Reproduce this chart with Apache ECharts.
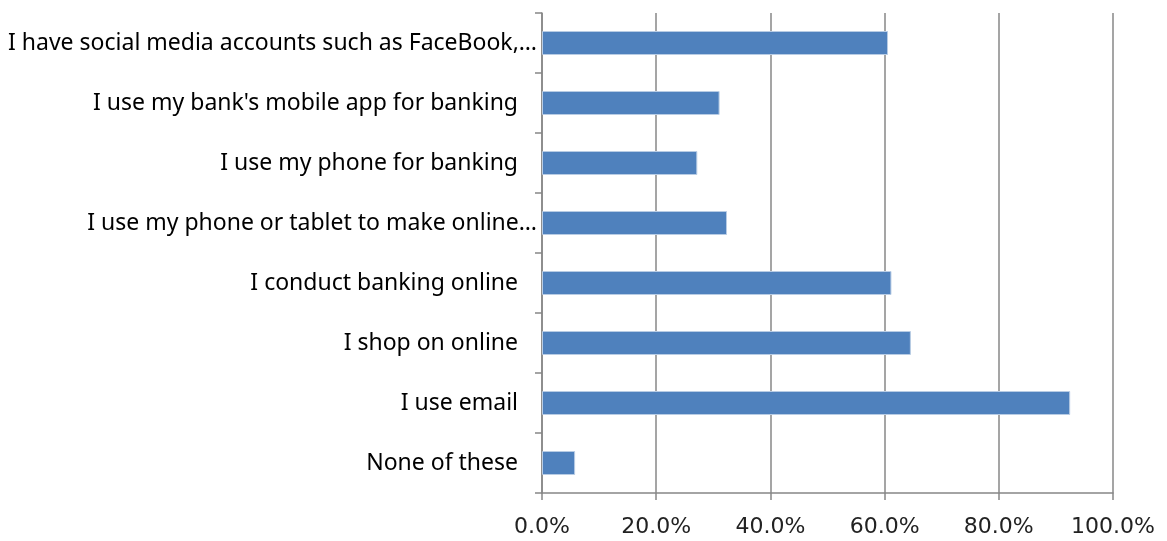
<!DOCTYPE html>
<html>
<head>
<meta charset="utf-8">
<script src="https://cdn.jsdelivr.net/npm/echarts@6/dist/echarts.min.js"></script>
<style>
  html, body { margin: 0; padding: 0; background: #fff; }
  #chart { width: 1167px; height: 541px; }
</style>
</head>
<body>
<div id="chart"></div>
<script>
// Survey answers, top to bottom
const categories = [
  "I have social media accounts such as FaceBook,…",
  "I use my bank's mobile app for banking",
  "I use my phone for banking",
  "I use my phone or tablet to make online…",
  "I conduct banking online",
  "I shop on online",
  "I use email",
  "None of these"
];
// Share of respondents (%)
const shares = [60.6, 31.1, 27.2, 32.4, 61.2, 64.6, 92.5, 5.8];
const xTicks = [0, 20, 40, 60, 80, 100];

const chart = echarts.init(document.getElementById('chart'), null, { renderer: 'canvas' });
const gray = '#878787';
const catFont = { fontFamily: 'Noto Sans', fontSize: 23, color: '#000' };

chart.setOption({
  animation: false,
  grid: { left: 542, right: 54, top: 13, bottom: 48, containLabel: false },
  xAxis: {
    type: 'value',
    min: xTicks[0],
    max: xTicks[xTicks.length - 1],
    interval: 20,
    axisLine: { show: true, lineStyle: { color: gray, width: 1.5 } },
    axisTick: { show: true, length: 7, lineStyle: { color: gray, width: 1.5 } },
    splitLine: { show: true, lineStyle: { color: gray, width: 1.5 } },
    axisLabel: {
      margin: 23,
      color: '#222',
      fontFamily: 'DejaVu Sans',
      fontSize: 22,
      formatter: v => v.toFixed(1) + '%'
    }
  },
  yAxis: {
    type: 'category',
    inverse: true,
    data: categories,
    axisLine: { show: true, lineStyle: { color: gray, width: 1.5 } },
    axisTick: { show: true, length: 7, lineStyle: { color: gray, width: 1.5 } },
    splitLine: { show: false },
    axisLabel: {
      margin: 5,
      ...catFont,
      // full labels sit a little further from the axis than shortened ones
      formatter: v => v.endsWith('…') ? '{t|' + v + '}' : '{p|' + v + '}',
      rich: {
        t: { ...catFont },
        p: { ...catFont, padding: [0, 19, 0, 0] }
      }
    }
  },
  series: [{
    type: 'bar',
    data: shares,
    barWidth: 24,
    itemStyle: { color: '#4F81BD', borderColor: '#b8cce4', borderWidth: 1 }
  }]
});
</script>
</body>
</html>
